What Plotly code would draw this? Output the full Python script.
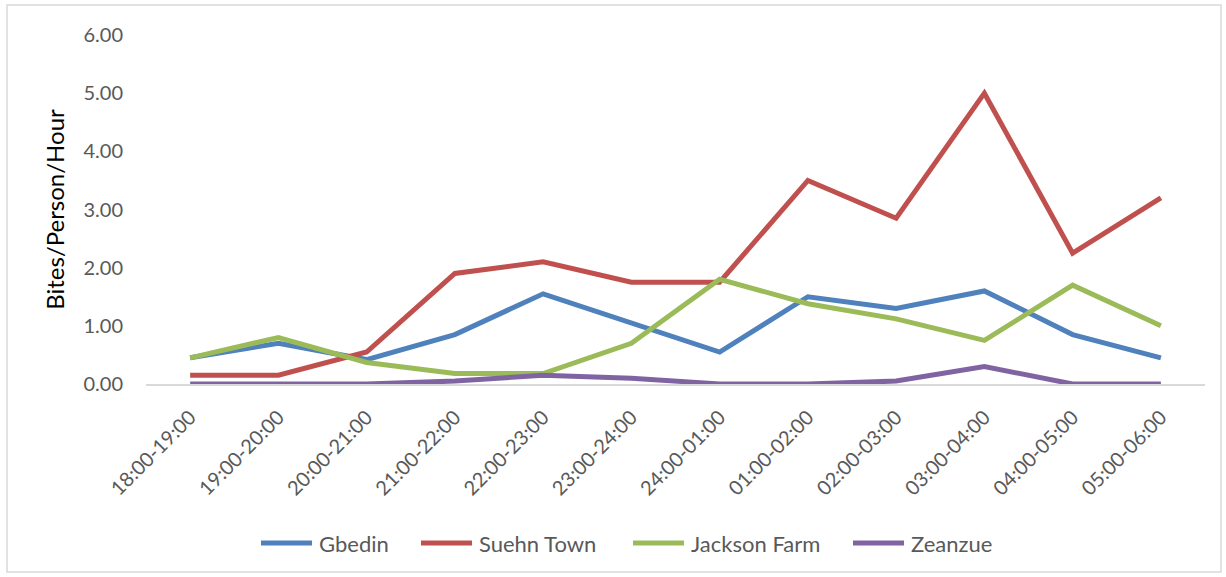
import plotly.graph_objects as go

# Hourly time slots on the x axis
time_slots = [
    "18:00-19:00", "19:00-20:00", "20:00-21:00", "21:00-22:00",
    "22:00-23:00", "23:00-24:00", "24:00-01:00", "01:00-02:00",
    "02:00-03:00", "03:00-04:00", "04:00-05:00", "05:00-06:00",
]

# Bites per person per hour for each site
gbedin = [0.45, 0.70, 0.42, 0.85, 1.55, 1.05, 0.55, 1.50, 1.30, 1.60, 0.85, 0.45]
suehn_town = [0.15, 0.15, 0.55, 1.90, 2.10, 1.75, 1.75, 3.50, 2.85, 5.00, 2.25, 3.20]
jackson_farm = [0.45, 0.80, 0.37, 0.18, 0.18, 0.70, 1.80, 1.38, 1.12, 0.75, 1.70, 1.00]
zeanzue = [0.00, 0.00, 0.00, 0.05, 0.15, 0.10, 0.00, 0.00, 0.05, 0.30, 0.00, 0.00]

series = [
    ("Gbedin", gbedin, "#4F81BD"),
    ("Suehn Town", suehn_town, "#C0504D"),
    ("Jackson Farm", jackson_farm, "#9BBB59"),
    ("Zeanzue", zeanzue, "#8064A2"),
]

FONT = "Lato, 'Open Sans', sans-serif"
GREY_TEXT = "#595959"
LINE_W = 5

fig = go.Figure()
for name, values, color in series:
    fig.add_trace(go.Scatter(
        x=time_slots, y=values, name=name, mode="lines",
        line=dict(color=color, width=LINE_W),
        showlegend=False,
    ))

L, R, T, B = 146, 21, 35, 193
W, H = 1226, 577
pw, ph = W - L - R, H - T - B

def px_x(v):
    return (v - L) / pw

def px_y(v):
    return (H - B - v) / ph

# Chart-area border
shapes = [dict(
    type="rect", xref="paper", yref="paper",
    x0=px_x(7), x1=px_x(1221), y0=px_y(572), y1=px_y(5),
    line=dict(color="#D9D9D9", width=1.5), fillcolor="rgba(0,0,0,0)",
    layer="below",
)]
annotations = []

# Legend row below the axis: long line key followed by the series name
legend_y = px_y(543)
legend_starts = [259, 419, 631, 851]
key_len = 55
for (name, _, color), x0 in zip(series, legend_starts):
    shapes.append(dict(
        type="line", xref="paper", yref="paper",
        x0=px_x(x0 + 2), x1=px_x(x0 + key_len - 2), y0=legend_y, y1=legend_y,
        line=dict(color=color, width=LINE_W),
    ))
    annotations.append(dict(
        text=name, xref="paper", yref="paper",
        x=px_x(x0 + key_len + 3), y=legend_y,
        xanchor="left", yanchor="middle", showarrow=False,
        font=dict(family=FONT, size=22, color=GREY_TEXT),
    ))

fig.update_layout(
    width=W, height=H,
    margin=dict(l=L, r=R, t=T, b=B),
    paper_bgcolor="white", plot_bgcolor="white",
    font=dict(family=FONT, color=GREY_TEXT, size=20),
    showlegend=False,
    xaxis=dict(
        type="category", range=[-0.5, 11.5],
        tickangle=-45, tickfont=dict(size=20, color=GREY_TEXT),
        showgrid=False, showline=True, linecolor="#D9D9D9", linewidth=1.5,
        ticks="", zeroline=False, ticklabelstandoff=12,
    ),
    yaxis=dict(
        range=[0, 6], dtick=1, tickformat=".2f",
        tickfont=dict(size=20, color=GREY_TEXT),
        showgrid=False, showline=False, zeroline=False, ticks="",
        ticklabelstandoff=22,
        title=dict(text="Bites/Person/Hour", font=dict(size=24, color="black"), standoff=12),
    ),
    shapes=shapes,
    annotations=annotations,
)

fig.write_html("out.html")
